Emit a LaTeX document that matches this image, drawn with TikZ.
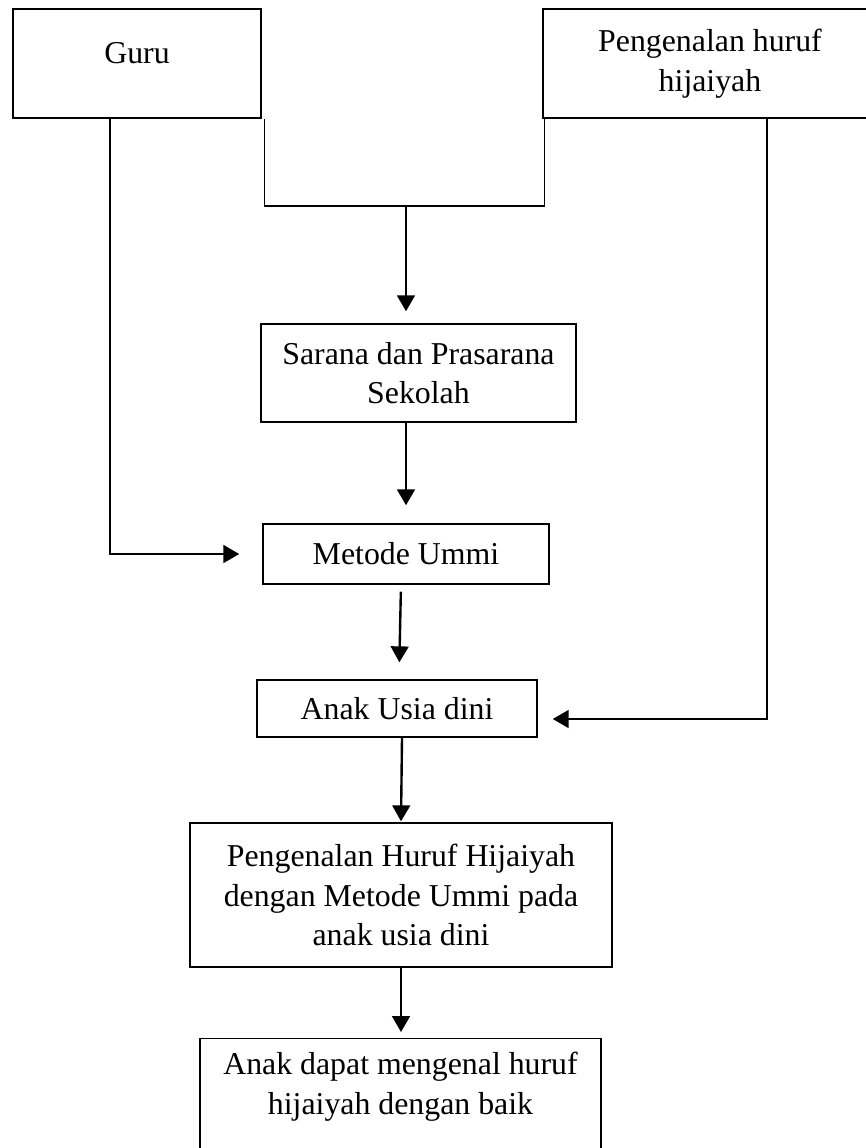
\documentclass[tikz,border=0pt]{standalone}
\usepackage{fontspec}
\setmainfont{Liberation Serif}
\usetikzlibrary{arrows.meta}
\newcommand{\pxu}{0.377pt}

\begin{document}
\begin{tikzpicture}[
    x=0.377pt, y=-0.377pt,
    kotak/.style={rectangle, draw, line width=0.55pt, align=center, inner sep=0pt,
                  font=\fontsize{12}{15}\selectfont},
    kotakatas/.style={kotak, line width=0.95pt},
    panah/.style={-{Triangle[length=6pt, width=6.7pt]}, line width=0.9pt},
    garis/.style={line width=0.5pt}
]
\useasboundingbox (0,0) rectangle (866,1148);
\clip (0,0) rectangle (866,1148);
\node (guru) [kotakatas, minimum width=248*\pxu, minimum height=109*\pxu, text depth=8pt] at (137,63.5) {Guru};
\node (huruf) [kotakatas, minimum width=334*\pxu, minimum height=109*\pxu] at (710,63.5) {Pengenalan huruf\\hijaiyah};
\node (sarana) [kotak, minimum width=315*\pxu, minimum height=98*\pxu] at (418.5,373) {Sarana dan Prasarana\\Sekolah};
\node (metode) [kotak, minimum width=286*\pxu, minimum height=60*\pxu] at (406,554) {Metode Ummi};
\node (anak) [kotak, minimum width=280*\pxu, minimum height=57*\pxu] at (397,708.5) {Anak Usia dini};
\node (pengummi) [kotak, minimum width=422*\pxu, minimum height=144*\pxu] at (401,895) {Pengenalan Huruf Hijaiyah\\dengan Metode Ummi pada\\anak usia dini};
\node (hasil) [kotak, anchor=north, minimum width=401*\pxu, inner ysep=5pt, text depth=30pt] at (400.5,1038) {Anak dapat mengenal huruf\\hijaiyah dengan baik};
\coordinate (tengah) at (406,206);
\draw [garis] ([xshift=2*\pxu]guru.south east) |- (tengah) -| ([xshift=3*\pxu]huruf.south west);
\draw [panah, shorten >=12*\pxu] (tengah) -- (tengah |- sarana.north);
\draw [panah, shorten >=18*\pxu] (sarana.south -| metode.north) -- (metode.north);
\draw [panah, shorten <=7*\pxu, shorten >=17*\pxu] ([xshift=-5*\pxu]metode.south) -- ([xshift=2*\pxu]anak.north);
\draw [panah, shorten >=23*\pxu] ([xshift=-27*\pxu]guru.south) |- (metode.west);
\draw [panah, shorten >=15*\pxu] ([xshift=57*\pxu]huruf.south) |- ([yshift=-10.5*\pxu]anak.east);
\draw [panah, shorten >=1*\pxu] ([xshift=5*\pxu]anak.south) -- (pengummi.north);
\draw [panah, shorten >=6*\pxu] (pengummi.south) -- (pengummi.south |- hasil.north);
\end{tikzpicture}
\end{document}
